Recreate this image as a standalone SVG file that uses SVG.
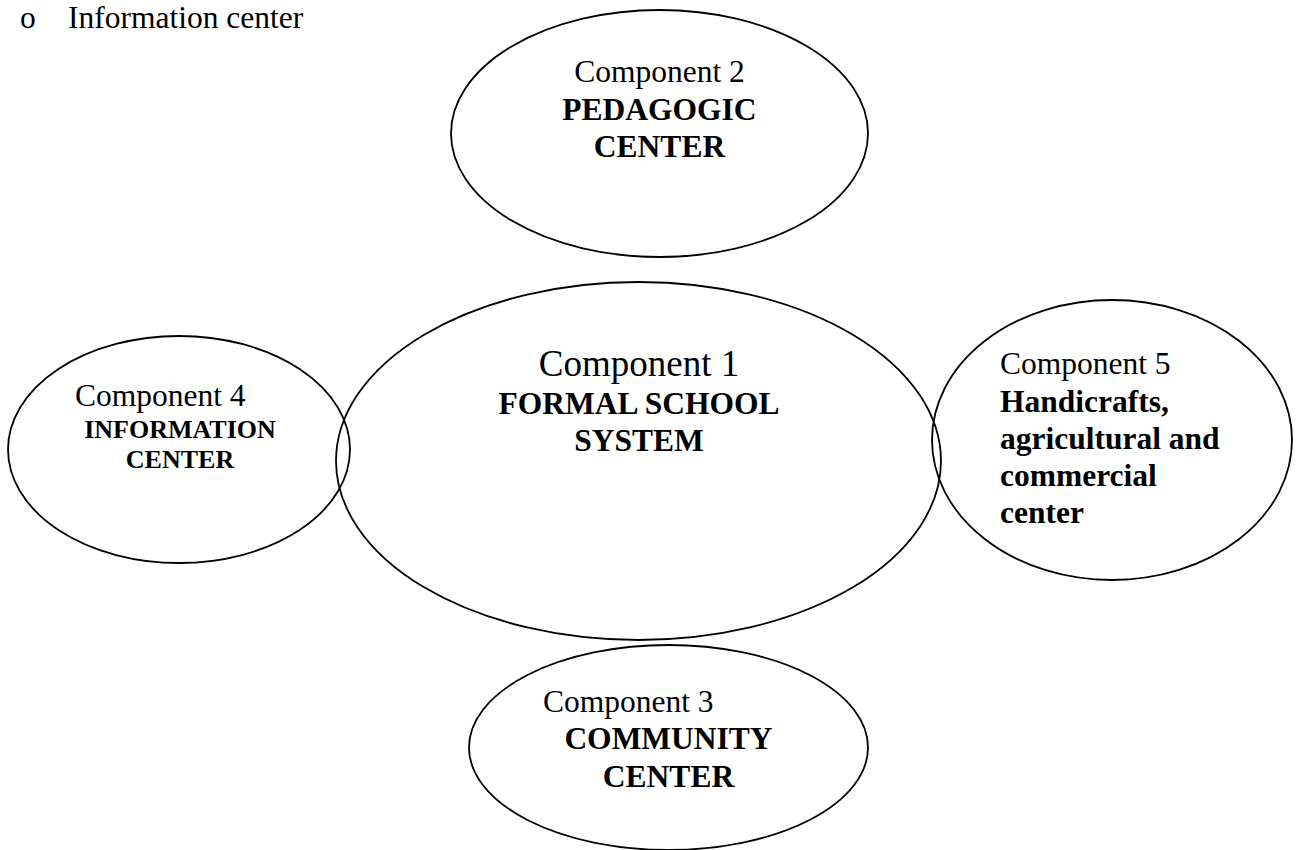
<svg xmlns="http://www.w3.org/2000/svg" width="1297" height="850" viewBox="0 0 1297 850">
<style>
.sh{fill:none;stroke:#000;stroke-width:1.8}
.t{font-family:"Liberation Serif","Times New Roman",serif;font-size:31.5px;fill:#000}
.b{font-weight:bold}
.c{text-anchor:middle}
.s{font-size:26px}
.l{font-size:37px}
</style>
<rect width="1297" height="850" fill="#fff"/>
<g id="header">
<text class="t" x="20" y="28">o</text>
<text class="t" x="68" y="28">Information center</text>
</g>
<g id="connectors"></g>
<g id="component1">
<ellipse class="sh" cx="638.5" cy="461" rx="302.5" ry="179"/>
<text class="t l c" x="639" y="376">Component 1</text>
<text class="t b c" x="639" y="414">FORMAL SCHOOL</text>
<text class="t b c" x="639" y="451">SYSTEM</text>
</g>
<g id="component2">
<ellipse class="sh" cx="659.5" cy="133.5" rx="208.5" ry="123.5"/>
<text class="t c" x="659.5" y="82">Component 2</text>
<text class="t b c" x="659.5" y="120">PEDAGOGIC</text>
<text class="t b c" x="659.5" y="157">CENTER</text>
</g>
<g id="component4">
<ellipse class="sh" cx="179" cy="449.5" rx="171" ry="113.5"/>
<text class="t" x="75" y="406">Component 4</text>
<text class="t b c s" x="180" y="438">INFORMATION</text>
<text class="t b c s" x="180" y="468">CENTER</text>
</g>
<g id="component5">
<ellipse class="sh" cx="1112" cy="440" rx="180" ry="140"/>
<text class="t" x="1000" y="374">Component 5</text>
<text class="t b" x="1000" y="412">Handicrafts,</text>
<text class="t b" x="1000" y="449">agricultural and</text>
<text class="t b" x="1000" y="486">commercial</text>
<text class="t b" x="1000" y="523">center</text>
</g>
<g id="component3">
<ellipse class="sh" cx="668.5" cy="747.5" rx="199.5" ry="102.5"/>
<text class="t" x="543" y="712">Component 3</text>
<text class="t b c" x="668.5" y="749">COMMUNITY</text>
<text class="t b c" x="668.5" y="787">CENTER</text>
</g>
</svg>
